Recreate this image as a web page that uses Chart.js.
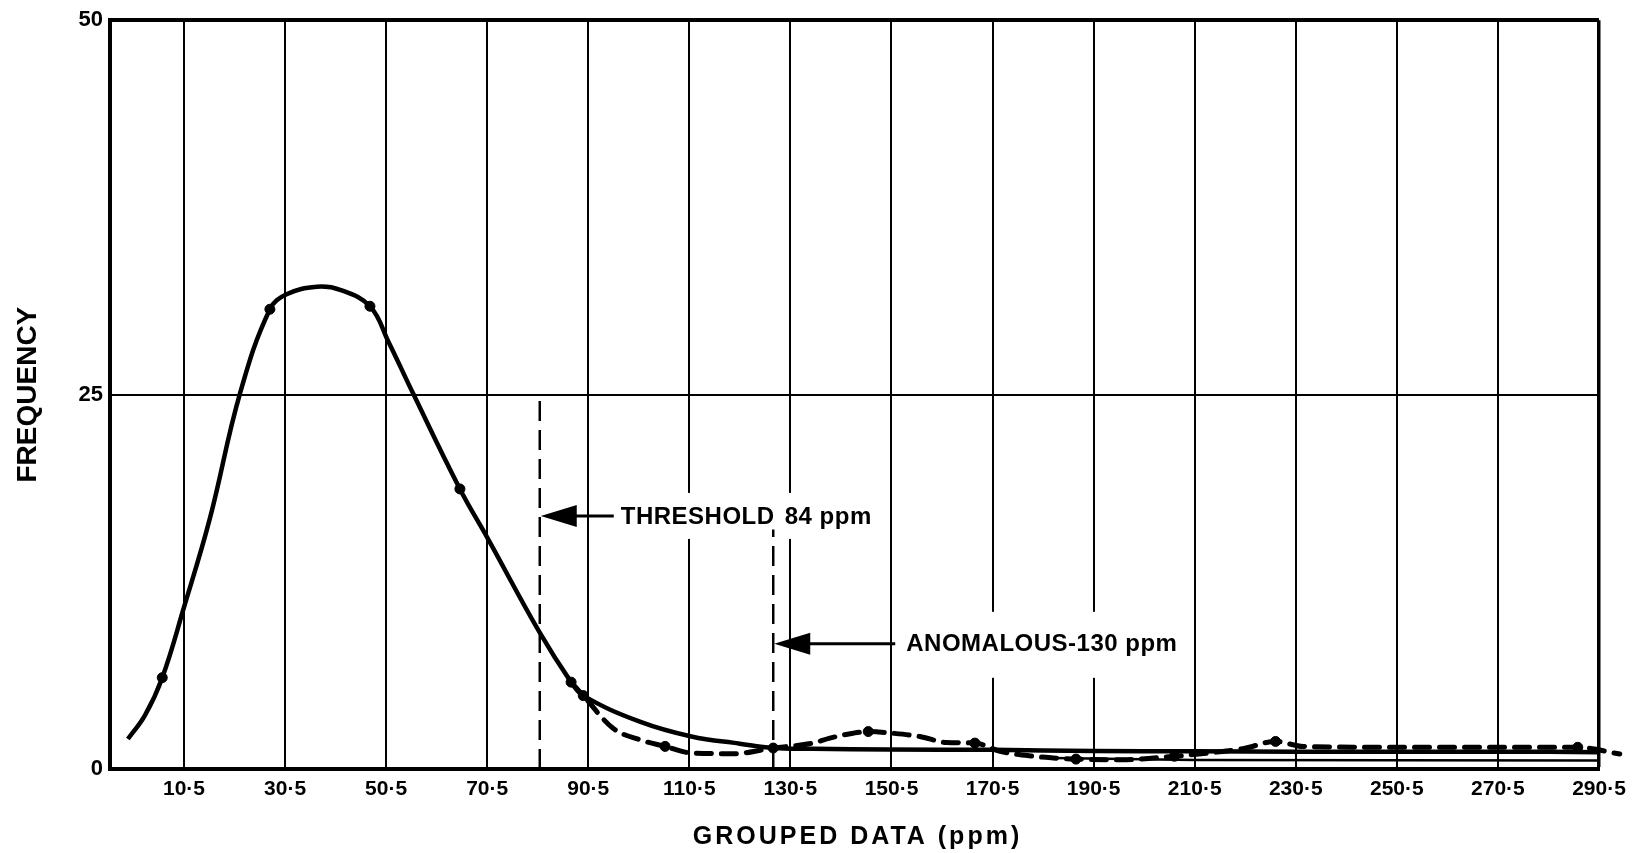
<!DOCTYPE html>
<html>
<head>
<meta charset="utf-8">
<title>Frequency of grouped data</title>
<script src="https://cdn.jsdelivr.net/npm/chart.js@4.4.1/dist/chart.umd.min.js"></script>
<style>
  html, body { margin: 0; padding: 0; background: #fff; }
  #wrap { width: 1638px; height: 853px; }
</style>
</head>
<body>
<div id="wrap"><canvas id="freqChart" width="1638" height="853"></canvas></div>
<script>
// x tick positions (ppm) and their printed labels
const xTicks = [10.5, 30.5, 50.5, 70.5, 90.5, 110.5, 130.5, 150.5, 170.5, 190.5, 210.5, 230.5, 250.5, 270.5, 290.5];
const xTickLabels = ['10·5', '30·5', '50·5', '70·5', '90·5', '110·5', '130·5', '150·5', '170·5', '190·5', '210·5', '230·5', '250·5', '270·5', '290·5'];
const yTicks = [0, 25, 50];

// solid curve as traced
const solidX = [-0.6, 2.8, 6.2, 10.5, 15.6, 21.6, 27.5, 30.8, 36.8, 41.4, 47.3, 51.0, 55.8, 65.1, 70.6, 80.9, 87.1, 89.5, 100.7, 110.9, 120.5, 127.1, 135, 150, 170.5, 190.5, 210.5, 230.5, 250.5, 270.5, 290.5, 294.6];
const solidY = [2.0, 3.6, 6.1, 10.8, 16.7, 25.1, 30.7, 31.7, 32.2, 32.0, 30.9, 28.5, 25.1, 18.7, 15.4, 9.1, 5.8, 4.9, 3.16, 2.17, 1.69, 1.40, 1.35, 1.3, 1.28, 1.2, 1.18, 1.16, 1.15, 1.15, 1.12, 1.05];
// measured points on the solid curve
const solidPtsX = [6.2, 27.5, 47.3, 65.1, 87.1, 127.1];
const solidPtsY = [6.1, 30.7, 30.9, 18.7, 5.8, 1.4];

// dashed curve as traced
const dashedX = [87.1, 89.5, 95.4, 100.7, 105.7, 110.9, 119.2, 127.1, 134.9, 138.3, 142.9, 145.9, 150.7, 156.1, 161.4, 167.0, 172.0, 178.5, 182.5, 187.0, 196, 206.5, 214, 220, 226.5, 232, 250, 270, 286.3, 294.6];
const dashedY = [5.8, 4.9, 2.72, 1.95, 1.51, 1.07, 1.02, 1.40, 1.73, 2.06, 2.39, 2.50, 2.39, 2.17, 1.77, 1.73, 1.18, 0.85, 0.74, 0.66, 0.62, 0.85, 1.1, 1.35, 1.84, 1.5, 1.45, 1.45, 1.45, 1.0];
const dashedPtsX = [89.5, 105.7, 145.9, 167.0, 187.0, 206.5, 226.5, 286.3];
const dashedPtsY = [4.9, 1.51, 2.50, 1.73, 0.66, 0.85, 1.84, 1.45];

// thin lower trace at the right end
const lowerX = [182.5, 210.5, 290.5];
const lowerY = [0.74, 0.6, 0.56];

// marker lines
const thresholdX = 80.9, thresholdTop = 24.9, thresholdArrowY = 16.9;
const anomalousX = 127.1, anomalousTop = 16.0, anomalousArrowY = 8.36;

const FONT = '"Liberation Sans", Arial, sans-serif';
const pts = (xs, ys) => xs.map((x, i) => ({ x: x, y: ys[i] }));

const notes = [
  { x: thresholdX, y: thresholdArrowY, parts: [['THRESHOLD', 81], ['84 ppm', 245]], shaft: 74, box: [76, -23, 264, 46] },
  { x: anomalousX, y: anomalousArrowY, parts: [['ANOMALOUS-130 ppm', 133]], shaft: 122, box: [127, -32, 262, 66] }
];

const notesPlugin = {
  id: 'notes',
  beforeDatasetsDraw(chart) {
    const ctx = chart.ctx, sx = chart.scales.x, sy = chart.scales.y;
    ctx.save();
    ctx.fillStyle = '#fff';
    notes.forEach(n => {
      const px = sx.getPixelForValue(n.x), py = sy.getPixelForValue(n.y);
      ctx.fillRect(px + n.box[0], py + n.box[1], n.box[2], n.box[3]);
    });
    ctx.restore();
  },
  afterDatasetsDraw(chart) {
    const ctx = chart.ctx, sx = chart.scales.x, sy = chart.scales.y;
    ctx.save();
    ctx.fillStyle = '#000';
    ctx.strokeStyle = '#000';
    notes.forEach(n => {
      const px = sx.getPixelForValue(n.x), py = sy.getPixelForValue(n.y);
      ctx.beginPath();
      ctx.moveTo(px + 1, py);
      ctx.lineTo(px + 37, py - 11);
      ctx.lineTo(px + 37, py + 11);
      ctx.closePath();
      ctx.fill();
      ctx.lineWidth = 3;
      ctx.beginPath();
      ctx.moveTo(px + 30, py);
      ctx.lineTo(px + n.shaft, py);
      ctx.stroke();
      ctx.font = 'bold 24px ' + FONT;
      ctx.letterSpacing = '0.5px';
      ctx.textBaseline = 'middle';
      ctx.textAlign = 'left';
      n.parts.forEach(p => ctx.fillText(p[0], px + p[1], py + 1));
    });
    ctx.restore();
  },
  afterDraw(chart) {
    const ctx = chart.ctx, area = chart.chartArea;
    ctx.save();
    ctx.fillStyle = '#000';
    ctx.textAlign = 'center';
    ctx.textBaseline = 'middle';
    ctx.font = 'bold 28px ' + FONT;
    ctx.translate(28, (area.top + area.bottom) / 2);
    ctx.rotate(-Math.PI / 2);
    ctx.fillText('FREQUENCY', 0, 0);
    ctx.restore();

    ctx.save();
    ctx.fillStyle = '#000';
    ctx.textAlign = 'center';
    ctx.textBaseline = 'middle';
    ctx.font = 'bold 25px ' + FONT;
    ctx.letterSpacing = '3px';
    ctx.fillText('GROUPED DATA (ppm)', (area.left + area.right) / 2 + 3, 837);
    ctx.restore();
  }
};

new Chart(document.getElementById('freqChart'), {
  type: 'scatter',
  data: {
    datasets: [
      {
        data: pts(solidX, solidY), showLine: true, borderColor: '#000', borderWidth: 4.5,
        pointRadius: 0, tension: 0.4, clip: false
      },
      {
        data: pts(dashedX, dashedY), showLine: true, borderColor: '#000', borderWidth: 5,
        borderDash: [15, 10], borderCapStyle: 'round', pointRadius: 0,
        cubicInterpolationMode: 'monotone', clip: false
      },
      {
        data: pts(lowerX, lowerY), showLine: true, borderColor: '#000', borderWidth: 2.5,
        pointRadius: 0, clip: false
      },
      {
        data: pts(solidPtsX, solidPtsY), backgroundColor: '#000', borderColor: '#000',
        pointRadius: 5, showLine: false
      },
      {
        data: pts(dashedPtsX, dashedPtsY), backgroundColor: '#000', borderColor: '#000',
        pointRadius: 5, showLine: false, clip: false
      },
      {
        data: [{ x: thresholdX, y: 0 }, { x: thresholdX, y: thresholdTop }], showLine: true,
        borderColor: '#000', borderWidth: 2.5, borderDash: [20, 9], pointRadius: 0
      },
      {
        data: [{ x: anomalousX, y: 0 }, { x: anomalousX, y: anomalousTop }], showLine: true,
        borderColor: '#000', borderWidth: 2.5, borderDash: [20, 9], pointRadius: 0
      }
    ]
  },
  options: {
    responsive: false,
    animation: false,
    events: [],
    layout: { padding: { left: 0, top: 13, right: 39, bottom: 0 } },
    plugins: { legend: { display: false }, tooltip: { enabled: false } },
    scales: {
      x: {
        type: 'linear',
        min: -4.14,
        max: 290.5,
        afterBuildTicks: s => { s.ticks = xTicks.map(v => ({ value: v })); },
        afterFit: s => { s.height = 84; },
        ticks: {
          autoSkip: false, maxRotation: 0, padding: 8, color: '#000',
          font: { family: FONT, size: 21, weight: 'bold' },
          callback: (v, i) => xTickLabels[i]
        },
        grid: {
          color: '#000', drawTicks: false,
          lineWidth: c => (c.tick && c.tick.value === 290.5 ? 3.5 : 2)
        },
        border: { color: '#000', width: 4 }
      },
      y: {
        min: 0,
        max: 50,
        afterBuildTicks: s => { s.ticks = yTicks.map(v => ({ value: v })); },
        afterFit: s => { s.width = 110; },
        ticks: {
          padding: 7, color: '#000',
          font: { family: FONT, size: 22, weight: 'bold' }
        },
        grid: {
          color: '#000', drawTicks: false,
          lineWidth: c => (c.tick && c.tick.value === 50 ? 4 : 2)
        },
        border: { color: '#000', width: 4 }
      }
    }
  },
  plugins: [notesPlugin]
});
</script>
</body>
</html>
